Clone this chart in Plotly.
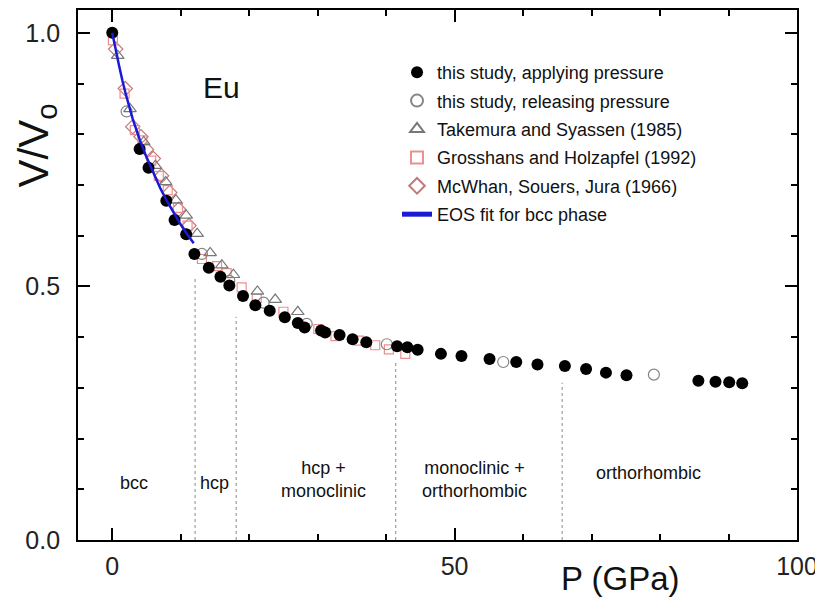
import plotly.graph_objects as go

# ---- data ----
apply_P = [0, 4.0, 5.3, 7.9, 9.1, 10.8, 12.0, 14.1, 15.8, 17.1, 19.1, 20.9, 23.0, 25.2, 27.1, 28.1,
           30.5, 31.1, 33.2, 35.1, 37.1, 41.6, 43.1, 44.6, 48.0, 51.0, 55.1, 59.0, 62.1, 66.1, 69.2,
           72.1, 75.1, 85.6, 88.1, 90.1, 92.0]
apply_V = [1.0, 0.771, 0.734, 0.669, 0.631, 0.603, 0.564, 0.537, 0.519, 0.502, 0.481, 0.463, 0.452,
           0.439, 0.428, 0.419, 0.413, 0.409, 0.404, 0.396, 0.390, 0.382, 0.380, 0.375, 0.367, 0.363,
           0.357, 0.351, 0.346, 0.343, 0.337, 0.330, 0.325, 0.314, 0.312, 0.311, 0.309]

release_P = [2.1, 13.1, 17.1, 22.1, 28.4, 40.1, 57.1, 79.1]
release_V = [0.845, 0.564, 0.511, 0.468, 0.426, 0.386, 0.351, 0.326]

tak_P = [0.8, 2.6, 4.6, 6.3, 7.8, 9.3, 10.8, 12.4, 14.3, 16.0, 17.7, 21.2, 23.8, 27.1]
tak_V = [0.955, 0.850, 0.785, 0.738, 0.706, 0.670, 0.640, 0.604, 0.566, 0.542, 0.523, 0.490, 0.474, 0.450]

gro_P = [0.1, 1.8, 3.3, 4.4, 5.7, 6.8, 8.1, 9.6, 11.0, 13.1, 15.3, 16.7, 18.9, 21.1, 25.0, 30.1,
         32.6, 36.0, 38.4, 40.4, 42.8]
gro_V = [0.985, 0.880, 0.808, 0.788, 0.748, 0.718, 0.690, 0.655, 0.620, 0.554, 0.540, 0.526, 0.498,
         0.477, 0.450, 0.416, 0.402, 0.393, 0.384, 0.376, 0.367]

mcw_P = [0.5, 1.9, 3.0, 4.2, 5.0, 6.0, 7.2, 8.4, 9.7, 11.2]
mcw_V = [0.968, 0.890, 0.815, 0.795, 0.770, 0.752, 0.718, 0.685, 0.652, 0.620]

eos_P = [0, 0.5, 1, 1.5, 2, 3, 4, 5, 6, 7, 8, 9, 10, 11, 11.9]
eos_V = [1.0, 0.965, 0.935, 0.905, 0.878, 0.830, 0.790, 0.755, 0.723, 0.694, 0.668, 0.644, 0.622, 0.602, 0.585]

boundary_P = [12.1, 18.1, 41.4, 65.7]
boundary_top = [0.52, 0.44, 0.35, 0.31]

phase_labels = ["bcc", "hcp", "hcp +<br>monoclinic", "monoclinic +<br>orthorhombic", "orthorhombic"]
phase_P = [3.2, 15.0, 30.8, 52.9, 78.3]
phase_V = [0.112, 0.112, 0.119, 0.119, 0.133]

legend_names = ["this study, applying pressure", "this study, releasing pressure",
                "Takemura and Syassen (1985)", "Grosshans and Holzapfel (1992)",
                "McWhan, Souers, Jura (1966)", "EOS fit for bcc phase"]

FONT = "Arial, Liberation Sans, sans-serif"

fig = go.Figure()

def add_pts(x, y, name, symbol, color, size, rank, lw=1.2):
    fig.add_trace(go.Scatter(
        x=x, y=y, mode="markers", name=name, legendgroup=name, legendrank=rank,
        marker=dict(symbol=symbol, color=color, size=size, line=dict(color=color, width=lw)),
    ))

add_pts(mcw_P, mcw_V, legend_names[4], "diamond-open", "#c27a7a", 11, 5)
add_pts(gro_P, gro_V, legend_names[3], "square-open", "#ee8f8f", 9, 4)
add_pts(tak_P, tak_V, legend_names[2], "triangle-up-open", "#777777", 11, 3)
add_pts(release_P, release_V, legend_names[1], "circle-open", "#858585", 11, 2)
add_pts(apply_P, apply_V, legend_names[0], "circle", "#000000", 12, 1, lw=0)

fig.add_trace(go.Scatter(
    x=eos_P, y=eos_V, mode="lines", name=legend_names[5], legendgroup=legend_names[5], legendrank=6,
    line=dict(color="#1a1ad6", width=2.5),
))

for p, top in zip(boundary_P, boundary_top):
    fig.add_shape(type="line", xref="x", yref="y", x0=p, x1=p, y0=0, y1=top,
                  line=dict(color="#8a8a8a", width=1, dash="dot"), layer="below")

for lab, p, v in zip(phase_labels, phase_P, phase_V):
    fig.add_annotation(x=p, y=v, xref="x", yref="y", text=lab, showarrow=False,
                       xanchor="center", yanchor="middle",
                       font=dict(family=FONT, size=18, color="#111111"))

fig.add_annotation(x=15.9, y=0.892, xref="x", yref="y", text="Eu", showarrow=False,
                   xanchor="center", yanchor="middle",
                   font=dict(family=FONT, size=30, color="#111111"))

# axis titles
fig.add_annotation(x=-0.058, y=0.745, xref="paper", yref="paper", text="V/V<sub>o</sub>",
                   textangle=-90, showarrow=False, xanchor="center", yanchor="middle",
                   font=dict(family=FONT, size=42, color="#111111"))
fig.add_annotation(x=0.755, y=-0.072, xref="paper", yref="paper", text="P (GPa)",
                   showarrow=False, xanchor="center", yanchor="middle",
                   font=dict(family=FONT, size=33, color="#111111"))

axis_common = dict(showline=True, linecolor="#000000", linewidth=1.8, mirror="allticks",
                   ticks="inside", ticklen=12, tickwidth=1.5, tickcolor="#000000",
                   showgrid=False, zeroline=False, automargin=False,
                   tickfont=dict(family=FONT, size=25, color="#222222"))

fig.update_xaxes(range=[-5, 100], tickvals=[0, 50, 100], ticktext=["0", "50", "100"],
                 minor=dict(dtick=10, ticklen=6, tickwidth=1.5, tickcolor="#000000", ticks="inside"),
                 ticklabelstandoff=3, **axis_common)
fig.update_yaxes(range=[0, 1.045], tickvals=[0, 0.5, 1.0], ticktext=["0.0", "0.5", "1.0"],
                 minor=dict(dtick=0.1, ticklen=6, tickwidth=1.5, tickcolor="#000000", ticks="inside"),
                 ticklabelstandoff=11, **axis_common)

# page body has an 8px margin, so the figure is sized/offset to compensate
fig.update_layout(
    width=815, height=594,
    margin=dict(l=70, r=26, t=2, b=62, autoexpand=False),
    plot_bgcolor="white", paper_bgcolor="white",
    font=dict(family=FONT, color="#111111"),
    legend=dict(x=0.4437, y=0.917, xanchor="left", yanchor="top",
                traceorder="grouped", tracegroupgap=2, itemsizing="constant",
                font=dict(family=FONT, size=18, color="#111111"),
                bgcolor="rgba(0,0,0,0)"),
)

fig.write_html("out.html")
